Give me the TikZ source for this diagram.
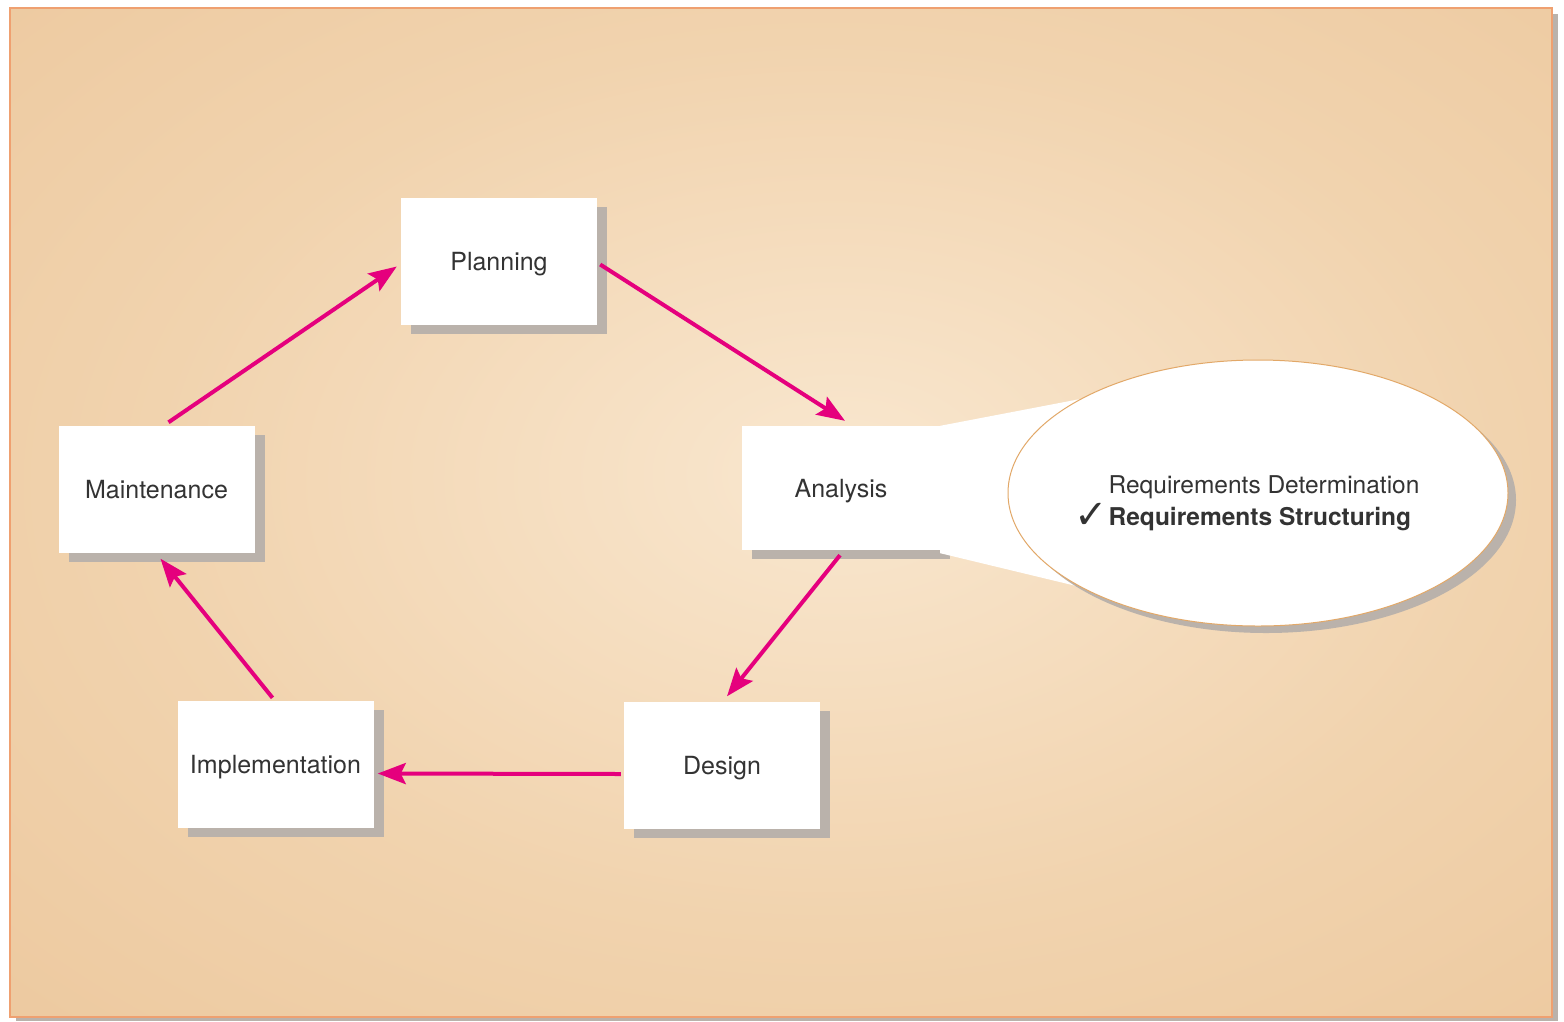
\documentclass[tikz,border=0pt]{standalone}
\usepackage{fontspec}
\setmainfont{TeX Gyre Heros}
\newfontfamily\djv{DejaVu Sans}
\usetikzlibrary{arrows.meta,shapes.geometric,calc,shadows}
\definecolor{bgin}{HTML}{F9E7CF}
\definecolor{bgmid}{HTML}{F1D3AE}
\definecolor{bgout}{HTML}{E6BA89}
\definecolor{mag}{HTML}{E5007D}
\definecolor{shad}{HTML}{BAB2AB}
\definecolor{txt}{HTML}{333333}
\definecolor{bord}{HTML}{EFA070}
\definecolor{ellbord}{HTML}{E2A868}
\pgfdeclareradialshading{bgshade}{\pgfpoint{2bp}{2bp}}{color(0bp)=(bgin); color(22bp)=(bgmid); color(62bp)=(bgout); color(90bp)=(bgout)}
\tikzset{
  stage/.style={fill=white, minimum width=196pt, minimum height=127pt, inner sep=0pt,
    font=\fontsize{25}{28}\selectfont, text=txt, text height=18pt, text depth=0pt,
    drop shadow={shadow xshift=10pt, shadow yshift=-9pt, fill=shad, opacity=1}},
  flow/.style={draw=mag, line width=4pt, -{Stealth[length=28pt,width=21pt,inset=5pt]}},
  bubble/.style={ellipse, fill=white, draw=ellbord, line width=1pt, minimum width=500pt, minimum height=266pt, inner sep=0pt,
    drop shadow={shadow xshift=8pt, shadow yshift=-7pt, fill=shad, opacity=1}}
}
\begin{document}
\begin{tikzpicture}[x=1pt,y=-1pt]
\useasboundingbox (0,0) rectangle (1564,1021);
% background panel
\fill[shad] (16,14) rectangle (1558,1021);
\shade[shading=bgshade] (10,8) rectangle (1552,1017);
\draw[bord, line width=1.5pt] (10,8) rectangle (1552,1017);
% stages
\node[stage] (plan) at (499,261.5) {Planning};
\node[stage] (maint) at (156.5,489) {Maintenance};
\node[stage, minimum width=198pt, minimum height=124pt] (ana) at (841,488) {Analysis};
\node[stage] (des) at (722,765) {Design};
\node[stage] (impl) at (275.5,764.5) {Implementation};
% callout
\coordinate (ellc) at (1258,493);
\path (ellc) node[minimum width=500pt, minimum height=266pt, ellipse, inner sep=0pt] (ghost) {};
\fill[white] (ana.north east) -- (ghost.152) -- (ghost.208) -- ($(ana.south east)+(0,3)$) -- cycle;
\node[bubble] (ell) at (ellc) {};
\node[align=left, text=txt, font=\fontsize{24.5}{32}\selectfont] (req) at (1264,503)
  {Requirements Determination\\\llap{\djv\fontsize{40}{32}\selectfont\raisebox{-3pt}{✓}\kern1pt}\textbf{Requirements Structuring}};
% connectors
\draw[flow] ($(plan.east)+(3,3)$) -- ($(ana.north)+(4,-5)$);
\draw[flow] ($(ana.south)+(-1,5)$) -- ($(des.north)+(5,-5)$);
\draw[flow] ($(des.west)+(-3,9)$) -- ($(impl.east)+(4,9)$);
\draw[flow] ($(impl.north)+(-3,-3)$) -- ($(maint.south)+(4,6)$);
\draw[flow] ($(maint.north)+(12,-3)$) -- ($(plan.west)+(-4,5)$);
\end{tikzpicture}
\end{document}
